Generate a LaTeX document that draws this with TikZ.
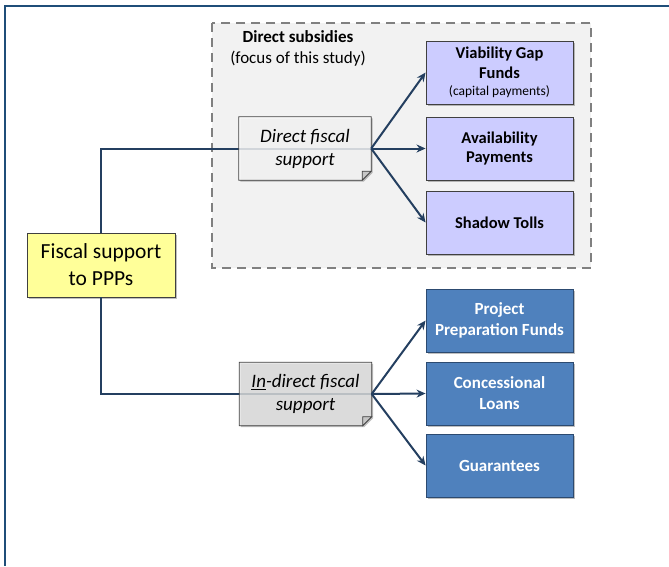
\documentclass[tikz,border=0pt]{standalone}
\usepackage{fontspec}
\setmainfont{Carlito}
\usetikzlibrary{arrows.meta,shadows}

\definecolor{frameblue}{HTML}{1F4E79}
\definecolor{linknavy}{HTML}{243F60}
\definecolor{zonefill}{HTML}{F2F2F2}
\definecolor{zoneedge}{HTML}{808080}
\definecolor{lilac}{HTML}{CCCCFF}
\definecolor{boxedge}{HTML}{404040}
\definecolor{midblue}{HTML}{4F81BD}
\definecolor{midblueedge}{HTML}{2C4A70}
\definecolor{paleyellow}{HTML}{FFFF99}
\definecolor{notegray}{HTML}{E3E3E3}

\tikzset{
  softshadow/.style={drop shadow={shadow xshift=1.5pt,shadow yshift=-1.5pt,opacity=0.25,fill=black}},
  subsidybox/.style={draw=boxedge,line width=0.9pt,fill=lilac,minimum width=147pt,minimum height=63pt,
     align=center,font=\fontsize{16.5}{19.5}\selectfont\bfseries,softshadow},
  indirectbox/.style={draw=midblueedge,line width=0.9pt,fill=midblue,minimum width=147pt,minimum height=63pt,
     align=center,text=white,font=\fontsize{17}{21}\selectfont\bfseries,softshadow},
  notebox/.style={minimum width=132pt,minimum height=63pt,align=center,
     font=\fontsize{19}{23}\selectfont\itshape},
  link/.style={draw=linknavy,line width=2pt},
  arrowlink/.style={link,-{Stealth[length=9pt,width=8pt]}},
}

\newcommand{\foldednote}[2]{%
  \path[draw=boxedge,line width=0.8pt,fill=#2,fill opacity=0.8,softshadow]
    (#1.north west) -- (#1.north east) -- ([yshift=9pt]#1.south east)
    -- ([xshift=-9pt]#1.south east) -- (#1.south west) -- cycle;
  \path[draw=boxedge,line width=0.6pt,fill=gray!45]
    ([yshift=9pt]#1.south east) -- ([xshift=-9pt,yshift=9pt]#1.south east)
    -- ([xshift=-9pt]#1.south east) -- cycle;
}

\begin{document}
\begin{tikzpicture}[x=1pt,y=-1pt]
  \useasboundingbox (0,0) rectangle (669,566);

  % page frame
  \draw[frameblue,line width=2pt] (669,6) -- (5,6) -- (5,566);

  % zone of direct subsidies
  \path[fill=zonefill,draw=zoneedge,line width=2.5pt,dash pattern=on 9pt off 6pt]
    (212,23) rectangle (591,268);
  \node[align=center,font=\fontsize{17}{21}\selectfont] (zonetitle) at (298,48)
    {\textbf{Direct subsidies}\\(focus of this study)};

  % target boxes
  \node[subsidybox] (vgf) at (499.5,72.5)
    {Viability Gap\\Funds\\[-2pt]{\fontsize{13.5}{15}\selectfont\mdseries (capital payments)}};
  \node[subsidybox] (avail) at (499.5,148.5) {Availability\\Payments};
  \node[subsidybox] (shadow) at (499.5,222.5) {Shadow Tolls};

  \node[indirectbox] (ppf) at (499.5,320.5) {Project\\Preparation Funds};
  \node[indirectbox] (loans) at (499.5,393.5) {Concessional\\Loans};
  \node[indirectbox] (guar) at (499.5,465.5) {Guarantees};

  % root
  \node[draw=boxedge,line width=0.9pt,fill=paleyellow,minimum width=148pt,minimum height=64pt,
        align=center,font=\fontsize{21.5}{27}\selectfont,softshadow] (root) at (101,265)
    {Fiscal support\\to PPPs};

  % intermediate notes (placed, drawn after the trunk lines)
  \node[notebox] (direct) at (305,148.5) {};
  \node[notebox] (indirect) at (305.5,394) {};

  % trunk lines
  \draw[link] (root.north) |- (direct.east);
  \draw[link] (root.south) |- (indirect.east);

  \foldednote{direct}{white}
  \foldednote{indirect}{notegray}
  \node[notebox] at (direct) {Direct fiscal\\support};
  \node[notebox] at (indirect) {\underline{In}-direct fiscal\\support};

  % branches
  \draw[arrowlink] (direct.east) -- (vgf.west);
  \draw[arrowlink] (direct.east) -- (avail.west);
  \draw[arrowlink] (direct.east) -- (shadow.west);
  \draw[arrowlink] (indirect.east) -- (ppf.west);
  \draw[arrowlink] (indirect.east) -- (loans.west);
  \draw[arrowlink] (indirect.east) -- (guar.west);
\end{tikzpicture}
\end{document}
